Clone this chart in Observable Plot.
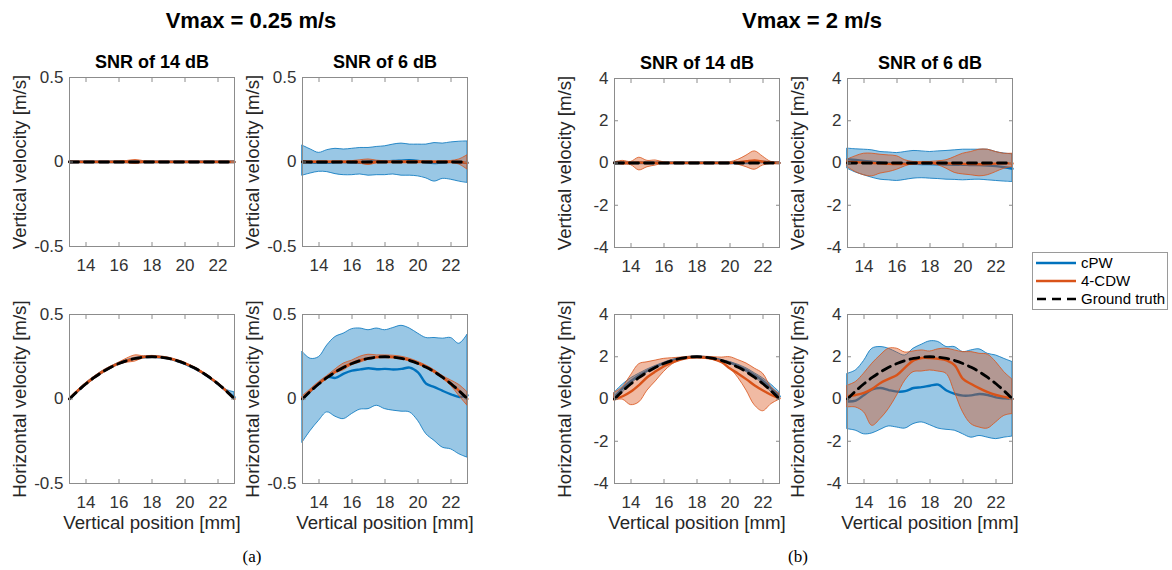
<!DOCTYPE html>
<html>
<head>
<meta charset="utf-8">
<script src="https://cdn.jsdelivr.net/npm/d3@7"></script>
<script src="https://cdn.jsdelivr.net/npm/@observablehq/plot@0.6"></script>
<style>
  html, body { margin: 0; padding: 0; background: #fff; }
  #fig { position: relative; width: 1172px; height: 570px; overflow: hidden; font-family: "Liberation Sans", Arial, Helvetica, sans-serif; }
  .abs { position: absolute; }
  .bigtitle { font-weight: bold; font-size: 22px; color: #000; transform: translate(-50%, -50%); white-space: nowrap; }
  .sub { font-family: "Liberation Serif", "Times New Roman", serif; font-size: 17px; color: #000; transform: translate(-50%, -50%); }
  #legend { border: 1px solid #9a9a9a; background: #fff; }
</style>
</head>
<body>
<div id="fig"></div>
<script>
// ---------- data ----------
const positions = [13,13.5,14,14.5,15,15.5,16,16.5,17,17.5,18,18.5,19,19.5,20,20.5,21,21.5,22,22.5,23];
const xTicks = [14,16,18,20,22];
const yTicksA = [-0.5,0,0.5];
const yTicksB = [-4,-2,0,2,4];
const groupTitles = ["Vmax = 0.25 m/s", "Vmax = 2 m/s"];
const snrTitles = ["SNR of 14 dB", "SNR of 6 dB"];
const seriesNames = ["cPW", "4-CDW", "Ground truth"];

// ground truth
const truthV = [0,0,0,0,0,0,0,0,0,0,0,0,0,0,0,0,0,0,0,0,0];
const truthA_H = [0,0.0475,0.09,0.1275,0.16,0.1875,0.21,0.2275,0.24,0.2475,0.25,0.2475,0.24,0.2275,0.21,0.1875,0.16,0.1275,0.09,0.0475,0];
const truthB_H = [0,0.38,0.72,1.02,1.28,1.5,1.68,1.82,1.92,1.98,2,1.98,1.92,1.82,1.68,1.5,1.28,1.02,0.72,0.38,0];

// (a) 14 dB vertical
const a14V_cpw   = [0,0,0,0,0,0,0,0,0,0,0,0,0,0,0,0,0,0,0,0,0];
const a14V_cpwLo = [-0.003,-0.003,-0.003,-0.003,-0.003,-0.003,-0.003,-0.003,-0.003,-0.003,-0.003,-0.003,-0.003,-0.003,-0.003,-0.003,-0.003,-0.003,-0.003,-0.003,-0.004];
const a14V_cpwHi = [0.003,0.003,0.003,0.003,0.003,0.003,0.003,0.003,0.003,0.003,0.003,0.003,0.003,0.003,0.003,0.003,0.003,0.003,0.003,0.003,0.004];
const a14V_cdw   = [0,0,0,0,0,0,0,0,0,0,0,0,0,0,0,0,0,0,0,0,0];
const a14V_cdwLo = [-0.003,-0.003,-0.003,-0.003,-0.003,-0.003,-0.004,-0.006,-0.012,-0.005,-0.003,-0.003,-0.003,-0.003,-0.003,-0.003,-0.003,-0.003,-0.003,-0.003,-0.003];
const a14V_cdwHi = [0.003,0.003,0.003,0.003,0.003,0.003,0.004,0.006,0.012,0.005,0.003,0.003,0.003,0.003,0.003,0.003,0.003,0.003,0.003,0.003,0.003];

// (a) 6 dB vertical
const a6V_cpw   = [0.002,-0.003,-0.005,-0.004,-0.002,0,-0.003,-0.004,0.002,0.004,0.003,0.006,0.008,0.01,0.006,-0.002,-0.006,-0.004,0.002,-0.003,-0.004];
const a6V_cpwLo = [-0.081,-0.068,-0.058,-0.06,-0.072,-0.078,-0.078,-0.074,-0.081,-0.078,-0.078,-0.074,-0.081,-0.081,-0.085,-0.097,-0.116,-0.1,-0.105,-0.116,-0.124];
const a6V_cpwHi = [0.097,0.074,0.054,0.07,0.078,0.074,0.078,0.083,0.083,0.089,0.093,0.103,0.109,0.103,0.103,0.103,0.112,0.109,0.116,0.12,0.122];
const a6V_cdw   = [0,0,0,0,0,0,0,0,-0.003,0,0,0,0,0,0,0,0,0,0,0,-0.005];
const a6V_cdwLo = [-0.004,-0.004,-0.004,-0.004,-0.004,-0.004,-0.005,-0.01,-0.018,-0.008,-0.004,-0.004,-0.004,-0.006,-0.006,-0.004,-0.004,-0.004,-0.006,-0.015,-0.045];
const a6V_cdwHi = [0.004,0.004,0.004,0.004,0.004,0.004,0.005,0.01,0.015,0.008,0.004,0.004,0.004,0.006,0.006,0.004,0.004,0.004,0.006,0.015,0.04];

// (a) 14 dB horizontal
const a14H_cpw   = [0,0.047,0.09,0.127,0.16,0.187,0.21,0.227,0.24,0.247,0.25,0.247,0.24,0.226,0.208,0.185,0.158,0.126,0.089,0.048,0.01];
const a14H_cpwLo = [-0.004,0.043,0.086,0.123,0.156,0.183,0.206,0.223,0.236,0.243,0.246,0.243,0.236,0.222,0.203,0.18,0.153,0.121,0.084,0.043,0.0];
const a14H_cpwHi = [0.004,0.051,0.094,0.131,0.164,0.191,0.214,0.231,0.244,0.251,0.254,0.251,0.244,0.23,0.212,0.189,0.162,0.13,0.093,0.055,0.04];
const a14H_cdw   = [0,0.0475,0.09,0.1275,0.16,0.1875,0.21,0.2275,0.24,0.2475,0.25,0.2475,0.24,0.2275,0.21,0.1875,0.16,0.1275,0.09,0.0475,0];
const a14H_cdwLo = [-0.005,0.043,0.085,0.123,0.155,0.183,0.205,0.215,0.222,0.242,0.245,0.243,0.235,0.223,0.205,0.183,0.155,0.123,0.085,0.043,-0.005];
const a14H_cdwHi = [0.005,0.052,0.095,0.132,0.165,0.192,0.215,0.24,0.258,0.253,0.255,0.252,0.245,0.232,0.215,0.192,0.165,0.132,0.095,0.052,0.005];

// (a) 6 dB horizontal
const a6H_cpw   = [0,0.048,0.092,0.13,0.125,0.15,0.168,0.175,0.182,0.176,0.178,0.175,0.178,0.186,0.158,0.09,0.07,0.048,0.028,0.012,0.022];
const a6H_cpwLo = [-0.258,-0.188,-0.129,-0.079,-0.105,-0.119,-0.089,-0.063,-0.06,-0.04,-0.06,-0.069,-0.075,-0.079,-0.129,-0.208,-0.248,-0.288,-0.298,-0.327,-0.347];
const a6H_cpwHi = [0.278,0.238,0.248,0.317,0.367,0.387,0.413,0.417,0.407,0.417,0.407,0.42,0.433,0.417,0.387,0.361,0.361,0.357,0.361,0.327,0.381];
const a6H_cdw   = [0.005,0.05,0.092,0.128,0.162,0.19,0.212,0.23,0.242,0.248,0.25,0.248,0.242,0.23,0.212,0.19,0.162,0.128,0.09,0.048,0.0];
const a6H_cdwLo = [-0.005,0.042,0.084,0.12,0.152,0.17,0.2,0.215,0.232,0.24,0.242,0.24,0.234,0.222,0.204,0.182,0.154,0.12,0.078,0.018,-0.04];
const a6H_cdwHi = [0.015,0.058,0.1,0.136,0.175,0.21,0.227,0.25,0.262,0.258,0.258,0.256,0.25,0.238,0.22,0.198,0.17,0.136,0.11,0.083,0.04];

// (b) 14 dB vertical
const b14V_cpw   = [0,0,0,0,0,0,0,0,0,0,0,0,0,0,0,0,0,0.02,0.04,0.02,0];
const b14V_cpwLo = [-0.03,-0.03,-0.03,-0.03,-0.03,-0.03,-0.03,-0.03,-0.03,-0.03,-0.03,-0.03,-0.03,-0.03,-0.03,-0.03,-0.03,-0.01,0.01,-0.01,-0.03];
const b14V_cpwHi = [0.03,0.03,0.03,0.03,0.03,0.03,0.03,0.03,0.03,0.03,0.03,0.03,0.03,0.03,0.03,0.03,0.03,0.05,0.07,0.05,0.03];
const b14V_cdw   = [0,0.02,0,0.03,0,0.01,0,0,0,0,0,0,0,0,0,0.03,0.08,0.12,0.06,0.01,0];
const b14V_cdwLo = [-0.03,-0.08,-0.1,-0.35,-0.2,-0.12,-0.03,-0.02,-0.02,-0.02,-0.02,-0.02,-0.02,-0.02,-0.03,-0.08,-0.2,-0.32,-0.12,-0.04,-0.03];
const b14V_cdwHi = [0.03,0.1,0.05,0.25,0.1,0.12,0.03,0.02,0.02,0.02,0.02,0.02,0.02,0.02,0.03,0.15,0.35,0.55,0.3,0.05,0.03];

// (b) 6 dB vertical
const b6V_cpw   = [0.18,0.14,0.1,0.06,0.03,0.0,-0.02,-0.03,-0.04,-0.05,-0.05,-0.06,-0.07,-0.08,-0.08,-0.1,-0.1,-0.12,-0.15,-0.2,-0.27];
const b6V_cpwLo = [-0.27,-0.45,-0.58,-0.7,-0.79,-0.82,-0.85,-0.8,-0.74,-0.72,-0.74,-0.76,-0.79,-0.8,-0.82,-0.8,-0.79,-0.82,-0.85,-0.88,-0.9];
const b6V_cpwHi = [0.68,0.65,0.63,0.6,0.52,0.5,0.47,0.52,0.57,0.55,0.52,0.55,0.57,0.6,0.63,0.63,0.63,0.63,0.52,0.45,0.41];
const b6V_cdw   = [0.05,0.04,0.02,0.0,-0.02,-0.04,-0.05,-0.04,-0.02,0,0,-0.01,-0.02,-0.03,-0.04,-0.05,-0.06,-0.05,-0.03,-0.02,-0.02];
const b6V_cdwLo = [-0.19,-0.43,-0.58,-0.63,-0.5,-0.43,-0.32,-0.16,-0.06,-0.06,-0.06,-0.11,-0.27,-0.47,-0.54,-0.58,-0.63,-0.58,-0.43,-0.27,-0.19];
const b6V_cdwHi = [0.16,0.32,0.44,0.44,0.39,0.36,0.32,0.13,0.05,0.05,0.05,0.08,0.13,0.28,0.44,0.52,0.63,0.63,0.52,0.44,0.44];

// (b) 14 dB horizontal
const b14H_cpw   = [0.1,0.5,0.85,1.12,1.34,1.53,1.7,1.83,1.92,1.98,2,1.98,1.92,1.83,1.72,1.56,1.36,1.12,0.85,0.5,0.12];
const b14H_cpwLo = [-0.02,0.3,0.7,1.02,1.28,1.48,1.67,1.81,1.9,1.97,1.99,1.97,1.9,1.81,1.68,1.5,1.27,1.0,0.72,0.32,-0.02];
const b14H_cpwHi = [0.3,0.68,0.98,1.2,1.4,1.57,1.72,1.85,1.94,1.99,2.01,1.99,1.94,1.85,1.75,1.62,1.45,1.22,0.98,0.68,0.32];
const b14H_cdw   = [0,0.13,0.35,0.67,1.04,1.31,1.55,1.73,1.87,1.95,1.97,1.95,1.89,1.74,1.44,1.2,0.93,0.64,0.4,0.19,0.03];
const b14H_cdwLo = [-0.08,-0.03,-0.29,-0.16,0.4,0.83,1.28,1.63,1.84,1.93,1.95,1.93,1.84,1.72,1.45,1.0,0.4,-0.3,-0.58,-0.25,-0.03];
const b14H_cdwHi = [0.29,0.56,1.12,1.65,1.74,1.82,1.9,1.93,1.96,2.0,2.01,2.0,1.98,1.96,1.98,1.84,1.68,1.44,1.2,0.56,0.24];

// (b) 6 dB horizontal
const b6H_cpw   = [-0.12,-0.08,0.19,0.45,0.52,0.42,0.35,0.37,0.52,0.56,0.63,0.68,0.4,0.24,0.16,0.17,0.24,0.19,0.08,0.03,0];
const b6H_cpwLo = [-1.43,-1.5,-1.67,-1.63,-1.46,-1.3,-1.35,-1.4,-1.19,-1.11,-1.24,-1.4,-1.46,-1.5,-1.67,-1.83,-1.75,-1.83,-1.9,-1.83,-1.78];
const b6H_cpwHi = [1.19,1.35,1.8,2.38,2.46,2.38,2.2,2.06,2.38,2.57,2.73,2.7,2.46,2.46,2.22,2.3,2.35,2.14,2.06,1.9,1.75];
const b6H_cdw   = [0.13,0.19,0.29,0.48,0.76,0.95,1.14,1.5,1.83,1.94,1.94,1.9,1.83,1.59,0.95,0.71,0.5,0.32,0.19,0.1,0];
const b6H_cdwLo = [-0.4,-0.4,-0.63,-1.27,-0.95,-0.48,0.16,0.87,1.27,1.3,1.35,1.3,1.19,0.32,-0.63,-1.19,-1.35,-1.4,-1.11,-0.8,-0.71];
const b6H_cdwHi = [0.63,0.8,1.2,1.67,2.06,2.38,2.38,2.2,2.25,2.3,2.25,2.35,2.38,2.3,2.22,2.22,2.14,2.1,1.75,1.27,0.92];

// ---------- styling / layout ----------
const BLUE = "#0072BD", ORANGE = "#D95319";
const AXIS = "#8c8c8c", TXT = "#333333";
const FONT = '"Liberation Sans", Arial, Helvetica, sans-serif';
const FW = 165, FH = 169; // frame size
const ML = 66, MR = 12, MT = 34, MB = 62;

const panels = [
  {left: 69,  top: 77,  ticks: yTicksA, ylab: "Vertical velocity [m/s]",   title: snrTitles[0], xlab: false, truth: truthV,   s: [a14V_cpw,a14V_cpwLo,a14V_cpwHi,a14V_cdw,a14V_cdwLo,a14V_cdwHi]},
  {left: 302, top: 77,  ticks: yTicksA, ylab: "Vertical velocity [m/s]",   title: snrTitles[1], xlab: false, truth: truthV,   s: [a6V_cpw,a6V_cpwLo,a6V_cpwHi,a6V_cdw,a6V_cdwLo,a6V_cdwHi]},
  {left: 69,  top: 314, ticks: yTicksA, ylab: "Horizontal velocity [m/s]", title: null, xlab: true, truth: truthA_H, s: [a14H_cpw,a14H_cpwLo,a14H_cpwHi,a14H_cdw,a14H_cdwLo,a14H_cdwHi]},
  {left: 302, top: 314, ticks: yTicksA, ylab: "Horizontal velocity [m/s]", title: null, xlab: true, truth: truthA_H, s: [a6H_cpw,a6H_cpwLo,a6H_cpwHi,a6H_cdw,a6H_cdwLo,a6H_cdwHi]},
  {left: 614, top: 78,  ticks: yTicksB, ylab: "Vertical velocity [m/s]",   title: snrTitles[0], xlab: false, truth: truthV,   s: [b14V_cpw,b14V_cpwLo,b14V_cpwHi,b14V_cdw,b14V_cdwLo,b14V_cdwHi]},
  {left: 847, top: 78,  ticks: yTicksB, ylab: "Vertical velocity [m/s]",   title: snrTitles[1], xlab: false, truth: truthV,   s: [b6V_cpw,b6V_cpwLo,b6V_cpwHi,b6V_cdw,b6V_cdwLo,b6V_cdwHi]},
  {left: 614, top: 314, ticks: yTicksB, ylab: "Horizontal velocity [m/s]", title: null, xlab: true, truth: truthB_H, s: [b14H_cpw,b14H_cpwLo,b14H_cpwHi,b14H_cdw,b14H_cdwLo,b14H_cdwHi]},
  {left: 847, top: 314, ticks: yTicksB, ylab: "Horizontal velocity [m/s]", title: null, xlab: true, truth: truthB_H, s: [b6H_cpw,b6H_cpwLo,b6H_cpwHi,b6H_cdw,b6H_cdwLo,b6H_cdwHi]}
];

const fig = document.getElementById("fig");
const curve = "catmull-rom";

function makePanel(p) {
  const rows = positions.map((x, i) => ({
    x, cpw: p.s[0][i], cpwLo: p.s[1][i], cpwHi: p.s[2][i],
    cdw: p.s[3][i], cdwLo: p.s[4][i], cdwHi: p.s[5][i], truth: p.truth[i]
  }));
  const yDom = [p.ticks[0], p.ticks[p.ticks.length - 1]];
  const marks = [
    Plot.areaY(rows, {x: "x", y1: "cpwLo", y2: "cpwHi", fill: BLUE, fillOpacity: 0.4, stroke: BLUE, strokeWidth: 0.8, curve}),
    Plot.line(rows, {x: "x", y: "cpw", stroke: BLUE, strokeWidth: 2.4, curve}),
    Plot.areaY(rows, {x: "x", y1: "cdwLo", y2: "cdwHi", fill: ORANGE, fillOpacity: 0.4, stroke: ORANGE, strokeWidth: 0.8, curve}),
    Plot.line(rows, {x: "x", y: "cdw", stroke: ORANGE, strokeWidth: 2.4, curve}),
    Plot.line(rows, {x: "x", y: "truth", stroke: "#000", strokeWidth: 2.8, strokeDasharray: "9,6", curve}),
    Plot.frame({stroke: AXIS, strokeWidth: 1}),
    Plot.axisX(xTicks, {anchor: "bottom", label: null, tickSize: -4, stroke: AXIS, tickFormat: () => ""}),
    Plot.axisX(xTicks, {anchor: "top", label: null, tickSize: -4, stroke: AXIS, tickFormat: () => ""}),
    Plot.axisY(p.ticks, {anchor: "left", label: null, tickSize: -4, stroke: AXIS, tickFormat: () => ""}),
    Plot.axisY(p.ticks, {anchor: "right", label: null, tickSize: -4, stroke: AXIS, tickFormat: () => ""}),
    Plot.axisX(xTicks, {anchor: "bottom", label: null, tickSize: 0, tickPadding: 12, fill: TXT, fontSize: 17, tickFormat: d => String(d)}),
    Plot.axisY(p.ticks, {anchor: "left", label: null, tickSize: 0, tickPadding: 6, fill: TXT, fontSize: 17, tickFormat: d => String(d)}),
    Plot.text([p.ylab], {text: d => d, frameAnchor: "left", textAnchor: "middle", lineAnchor: "middle", rotate: -90, dx: -49, fontSize: 18.7, fill: "#262626"})
  ];
  if (p.title) marks.push(Plot.text([p.title], {text: d => d, frameAnchor: "top", textAnchor: "middle", lineAnchor: "middle", dy: -15, fontSize: 18, fontWeight: "bold", fill: "#000"}));
  if (p.xlab) marks.push(Plot.text(["Vertical position [mm]"], {text: d => d, frameAnchor: "bottom", textAnchor: "middle", lineAnchor: "middle", dy: 40, fontSize: 18.7, fill: "#262626"}));

  const svg = Plot.plot({
    width: FW + ML + MR, height: FH + MT + MB,
    marginLeft: ML, marginRight: MR, marginTop: MT, marginBottom: MB,
    x: {domain: [13, 23], axis: null},
    y: {domain: yDom, axis: null},
    style: {fontFamily: FONT, fontSize: "17px", background: "transparent", overflow: "visible", color: TXT},
    marks
  });
  svg.style.position = "absolute";
  svg.style.left = (p.left - ML) + "px";
  svg.style.top = (p.top - MT) + "px";
  svg.style.maxWidth = "none";
  fig.appendChild(svg);
}
panels.forEach(makePanel);

function addText(txt, cls, x, y) {
  const d = document.createElement("div");
  d.className = "abs " + cls;
  d.style.left = x + "px";
  d.style.top = y + "px";
  d.textContent = txt;
  fig.appendChild(d);
}
addText(groupTitles[0], "bigtitle", 251, 21);
addText(groupTitles[1], "bigtitle", 812, 21);
addText("(a)", "sub", 252, 557);
addText("(b)", "sub", 798, 557);

// legend
const leg = document.createElement("div");
leg.id = "legend";
leg.className = "abs";
leg.style.cssText += "left:1032px;top:252px;width:134px;height:56px;";
const legColors = [BLUE, ORANGE, "#000"];
const legDash = [null, null, "9,6"];
let html = `<svg width="134" height="56" style="position:absolute;left:0;top:0">`;
seriesNames.forEach((n, i) => {
  const y = 10 + i * 18;
  html += `<line x1="3" x2="43" y1="${y}" y2="${y}" stroke="${legColors[i]}" stroke-width="2.4" ${legDash[i] ? `stroke-dasharray="${legDash[i]}" stroke-dashoffset="-1"` : ""}/>`;
  html += `<text x="48" y="${y + 5}" font-family='${FONT}' font-size="15" fill="#000">${n}</text>`;
});
html += `</svg>`;
leg.innerHTML = html;
fig.appendChild(leg);
</script>
</body>
</html>
